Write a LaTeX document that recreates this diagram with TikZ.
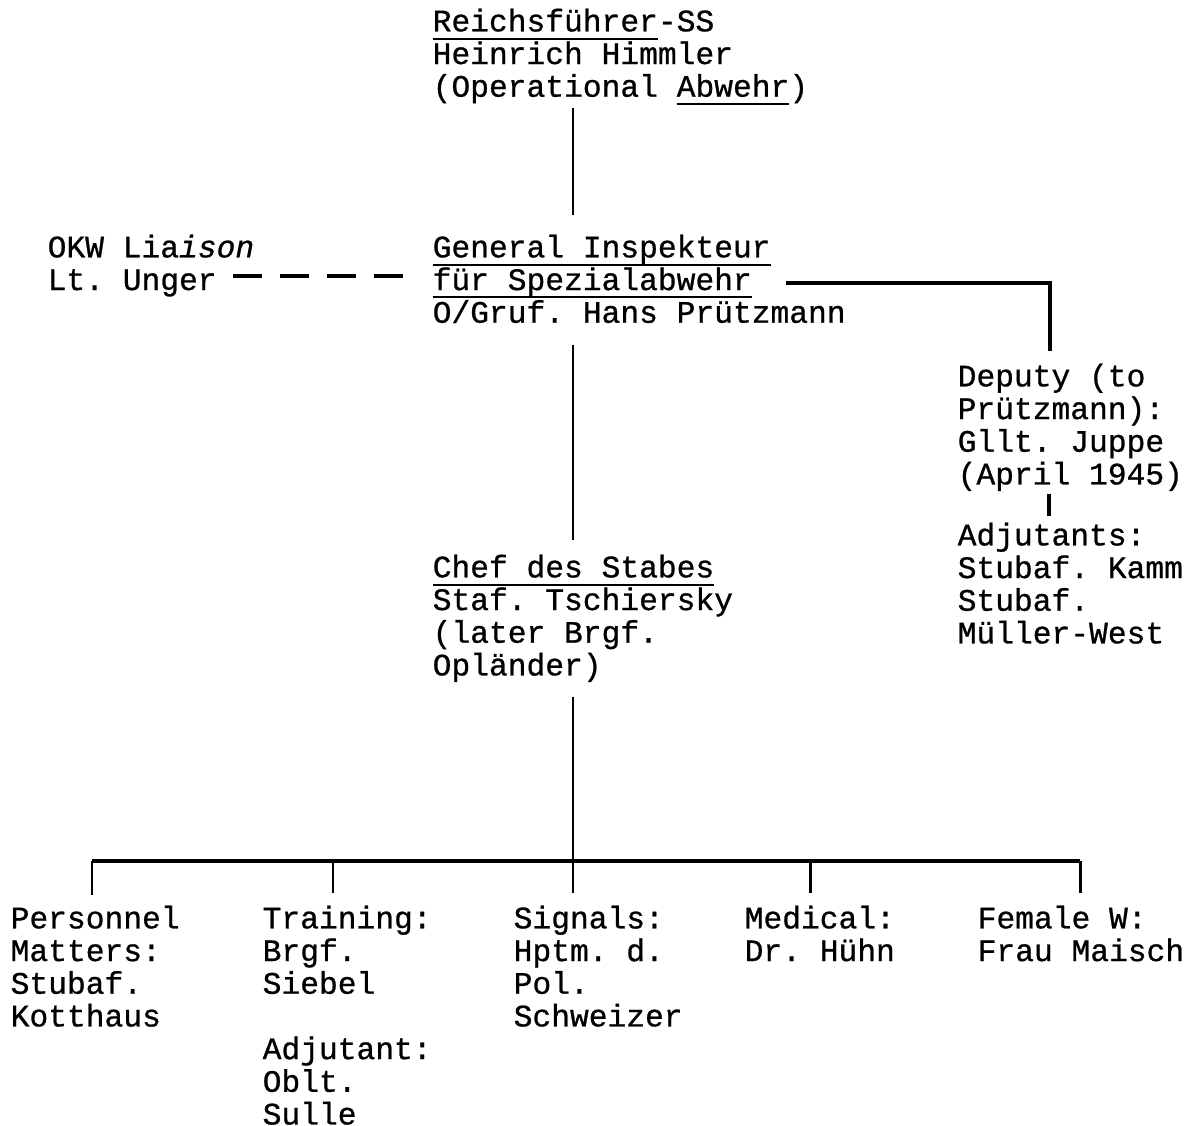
\documentclass[tikz,border=0pt]{standalone}
\usepackage{fontspec}
\setmonofont[FakeBold=0.8]{Liberation Mono}
\usepackage{tikz}

\newsavebox\ulbox
\newcommand{\typeul}[1]{\sbox\ulbox{#1}\rlap{\vrule height -1.8pt depth 2.4pt width \wd\ulbox}\usebox\ulbox}

\begin{document}
\begin{tikzpicture}[
    box/.style={anchor=north west, inner sep=0, align=left,
      font=\ttfamily\fontsize{8.9}{9.3}\selectfont,
      execute at begin node={\lineskiplimit=-10pt\vrule height 7.5pt width 0pt\relax}},
    link/.style={line width=0.85pt},
    bus/.style={line width=1.3pt},
    liaison/.style={line width=1pt, dash pattern=on 0.29cm off 0.18cm}
  ]

\useasboundingbox (0,0) rectangle (11.92,-11.26);

% top

\node[box] (hq) at (4.32, -0.08) {\typeul{Reichsführer}-SS\\Heinrich Himmler\\(Operational \typeul{Abwehr})};

% inspekteur and liaison

\node[box] (insp) at (4.32, -2.34) {\typeul{General Inspekteur}\\\typeul{für Spezialabwehr}\\O/Gruf. Hans Prützmann};
\node[box] (okw) at (0.47, -2.34) {OKW Lia\textit{ison}\\Lt. Unger};

% deputy

\node[box] (dep) at (9.57, -3.63) {Deputy (to\\Prützmann):\\Gllt. Juppe\\(April 1945)};
\node[box] (adj) at (9.57, -5.22) {Adjutants:\\Stubaf. Kamm\\Stubaf.\\Müller-West};

% chef

\node[box] (chef) at (4.32, -5.54) {\typeul{Chef des Stabes}\\Staf. Tschiersky\\(later Brgf.\\Opländer)};

% departments

\node[box] (pers) at (0.10, -9.05) {Personnel\\Matters:\\Stubaf.\\Kotthaus};
\node[box] (train) at (2.62, -9.05) {Training:\\Brgf.\\Siebel\\[9.3pt]Adjutant:\\Oblt.\\Sulle};
\node[box] (sig) at (5.13, -9.05) {Signals:\\Hptm. d.\\Pol.\\Schweizer};
\node[box] (med) at (7.44, -9.05) {Medical:\\Dr. Hühn};
\node[box] (fem) at (9.77, -9.05) {Female W:\\Frau Maisch};

% helper coordinates
\coordinate (spine) at (5.73, 0);
\coordinate (bus) at (0, -8.61);
\coordinate (side) at (10.50, -2.83);
\coordinate (unger) at (2.33, -2.76);
\coordinate (ungerend) at (4.05, -2.76);

% main chain
\draw[link] (spine |- hq.south) ++(0,-0.02) -- (spine |- 0,-2.15);
\draw[link] (spine |- 0,-3.45) -- (spine |- 0,-5.40);
\draw[link] (spine |- 0,-6.97) -- (spine |- bus);

% liaison
\draw[liaison] (unger) -- (ungerend);

% deputy
\draw[bus] (7.86, -2.83) -- (side) -- (side |- 0,-3.51);
\draw[bus] (10.49, -4.94) -- (10.49, -5.16);

% department bus
\draw[bus] (0.92, -8.61) -- (10.80, -8.61);
\draw[link] (0.92, -8.61) -- (0.92, -8.95);
\draw[link] (3.33, -8.61) -- (3.33, -8.93);
\draw[link] (5.73, -8.61) -- (5.73, -8.93);
\draw[link] (8.10, -8.61) -- (8.10, -8.93);
\draw[link] (10.80, -8.61) -- (10.80, -8.93);

\end{tikzpicture}
\end{document}
